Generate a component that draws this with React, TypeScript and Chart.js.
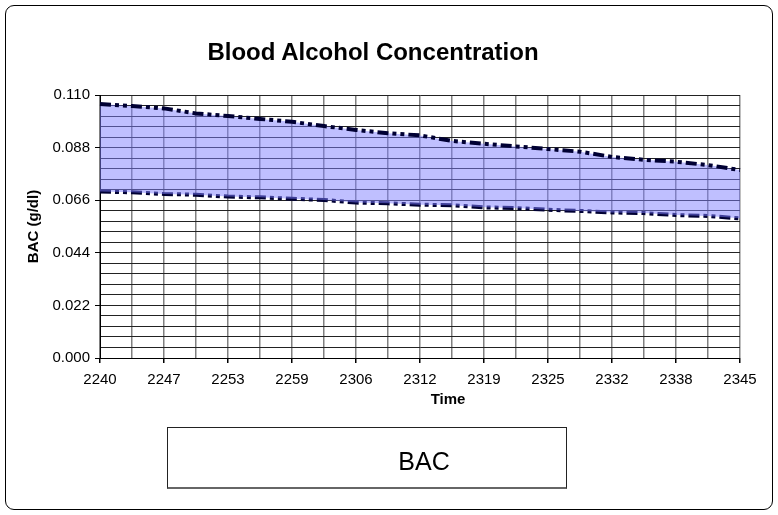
import React, { useEffect, useRef } from 'react';
import { Chart, registerables } from 'chart.js';

Chart.register(...registerables);

const FONT = '"Liberation Sans", Arial, Helvetica, sans-serif';

// Time of measurement (hhmm); every other one is labelled
const times = [
  '2240', '2243', '2247', '2250', '2253', '2256', '2259', '2303', '2306', '2309', '2312',
  '2316', '2319', '2322', '2325', '2328', '2332', '2335', '2338', '2341', '2345',
];
// Upper bound of BAC band (g/dl)
const upperBAC = [
  0.1062, 0.1054, 0.1044, 0.1023, 0.1012, 0.1, 0.0988, 0.097, 0.0954, 0.094, 0.0931,
  0.0908, 0.0896, 0.0885, 0.0874, 0.0863, 0.0841, 0.0829, 0.0821, 0.0807, 0.0786,
];
// Lower bound of BAC band (g/dl)
const lowerBAC = [
  0.0696, 0.0693, 0.0686, 0.0683, 0.0675, 0.0672, 0.0666, 0.0661, 0.065, 0.0647, 0.0641,
  0.0639, 0.063, 0.0627, 0.062, 0.0615, 0.0609, 0.0606, 0.0598, 0.0594, 0.0584,
];
// Labelled y ticks
const yLabels = ['0.000', '0.022', '0.044', '0.066', '0.088', '0.110'];
const yMax = 0.11;
const yMinorPerMajor = 5;

export default function App() {
  const ref = useRef<HTMLCanvasElement | null>(null);

  useEffect(() => {
    if (!ref.current) return;
    const lineStyle = {
      borderColor: '#000033',
      borderWidth: 4,
      borderDash: [11, 4, 4, 4, 4, 4],
      pointRadius: 0,
      pointHoverRadius: 0,
      tension: 0,
    };
    const nTicks = (yLabels.length - 1) * yMinorPerMajor;
    const chart = new Chart(ref.current, {
      type: 'line',
      data: {
        labels: times,
        datasets: [
          {
            label: 'BAC high',
            data: upperBAC,
            ...lineStyle,
            fill: '+1',
            backgroundColor: 'rgba(128,128,255,0.5)',
          },
          {
            label: 'BAC low',
            data: lowerBAC,
            ...lineStyle,
            fill: false,
          },
        ],
      },
      options: {
        animation: false,
        responsive: false,
        events: [],
        layout: { padding: { top: 95, right: 38, bottom: 0, left: 0 } },
        plugins: {
          legend: { display: false },
          title: { display: false },
          tooltip: { enabled: false },
        },
        scales: {
          x: {
            type: 'category',
            offset: false,
            border: { color: '#000', width: 1 },
            grid: {
              color: '#808080',
              lineWidth: 1.5,
              tickLength: 5,
              tickColor: (ctx: any) => (ctx.index % 2 === 0 ? '#000' : 'rgba(0,0,0,0)'),
            },
            ticks: {
              autoSkip: false,
              maxRotation: 0,
              minRotation: 0,
              color: '#000',
              padding: 8,
              font: { family: FONT, size: 15 },
              callback: (_v: any, i: number) => (i % 2 === 0 ? times[i] : ''),
            },
            afterFit: (s: any) => {
              s.height = 157;
            },
          },
          y: {
            min: 0,
            max: yMax,
            border: { color: '#000', width: 1 },
            grid: {
              color: '#222',
              lineWidth: 1,
              tickLength: 5,
              tickColor: (ctx: any) =>
                ctx.index % yMinorPerMajor === 0 ? '#000' : 'rgba(0,0,0,0)',
            },
            afterBuildTicks: (s: any) => {
              s.ticks = Array.from({ length: nTicks + 1 }, (_, i) => ({
                value: (yMax * i) / nTicks,
              }));
            },
            ticks: {
              autoSkip: false,
              color: '#000',
              padding: 5,
              font: { family: FONT, size: 15 },
              callback: (_v: any, i: number) =>
                i % yMinorPerMajor === 0 ? yLabels[i / yMinorPerMajor] : '',
            },
            title: {
              display: true,
              text: 'BAC (g/dl)',
              color: '#000',
              font: { family: FONT, size: 15, weight: 'bold' },
              padding: { top: 25, bottom: 0 },
            },
            afterFit: (s: any) => {
              s.width = 100;
            },
          },
        },
      },
    } as any);
    return () => chart.destroy();
  }, []);

  return (
    <div style={{ position: 'absolute', left: 0, top: 0, width: 778, height: 515, background: '#fff' }}>
      <div
        style={{
          position: 'absolute',
          left: 5,
          top: 5,
          width: 766,
          height: 503,
          border: '1px solid #000',
          borderRadius: 9,
        }}
      />
      <canvas ref={ref} width={778} height={515} style={{ position: 'absolute', left: 0, top: 0 }} />
      <div
        style={{
          position: 'absolute',
          left: 0,
          width: 746,
          top: 40,
          lineHeight: '24px',
          textAlign: 'center',
          fontFamily: FONT,
          fontWeight: 'bold',
          fontSize: 24,
          color: '#000',
        }}
      >
        Blood Alcohol Concentration
      </div>
      <div
        style={{
          position: 'absolute',
          left: 348,
          width: 200,
          top: 390,
          lineHeight: '18px',
          textAlign: 'center',
          fontFamily: FONT,
          fontWeight: 'bold',
          fontSize: 15,
          color: '#000',
        }}
      >
        Time
      </div>
      <div
        style={{
          position: 'absolute',
          left: 167,
          top: 427,
          width: 398,
          height: 59,
          border: '1px solid #222',
          borderBottom: '2px solid #666',
          fontFamily: FONT,
          fontSize: 25,
          color: '#000',
        }}
      >
        <span
          style={{
            position: 'absolute',
            left: 256,
            width: 0,
            top: 33,
            display: 'flex',
            justifyContent: 'center',
            whiteSpace: 'nowrap',
            lineHeight: 0,
          }}
        >
          BAC
        </span>
      </div>
    </div>
  );
}
